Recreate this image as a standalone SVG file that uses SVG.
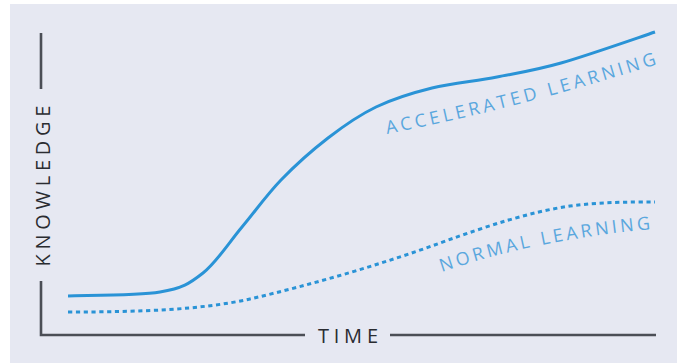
<svg xmlns="http://www.w3.org/2000/svg" width="677" height="363" viewBox="0 0 677 363">
<style>
.axis{fill:none;stroke:#4b4e56;stroke-width:2.6;stroke-linecap:butt}
.axislbl{font-family:"Open Sans","Liberation Sans",sans-serif;font-size:20px;fill:#2a2c31}
.curve{fill:none;stroke:#2a93d6;stroke-width:3}
.dotted{stroke-dasharray:4.2 3.6}
.lbl{font-family:"Open Sans","Liberation Sans",sans-serif;font-size:18px;fill:#5aa7de}
</style>
<defs>
<path id="accPath" d="M387,134 Q520,108 664,62"/>
<path id="normPath" d="M442,272 Q540,238 664,228"/>
</defs>
<rect x="10" y="4" width="667" height="359" fill="#e6e8f2"/>
<g id="axes">
<path class="axis" d="M41,33 V89 M41,281 V335 H305 M390,335 H656"/>
<text class="axislbl" transform="translate(50,186) rotate(-90)" text-anchor="middle" textLength="161" lengthAdjust="spacing">KNOWLEDGE</text>
<text class="axislbl" x="318" y="343" textLength="60" lengthAdjust="spacing">TIME</text>
</g>
<g id="connectors">
<path id="accelerated" class="curve" d="M68,296 C83.3,295.3 137.5,295.8 160,292 C182.5,288.2 189.3,283.8 203,273 C216.7,262.2 229,242.5 242,227 C255,211.5 266.7,194.8 281,180 C295.3,165.2 312.2,150.2 328,138 C343.8,125.8 358.7,115.3 376,107 C393.3,98.7 411.8,93 432,88 C452.2,83 475.5,81.2 497,77 C518.5,72.8 534.7,70.5 561,63 C587.3,55.5 639.3,37.2 655,32"/>
<path id="normal" class="curve dotted" d="M68,312 C140,312 200,310 250,299 C310,285 380,265 440,243 C490,225 530,212 570,206 C600,202 630,202 655,202"/>
</g>
<g id="labels">
<text class="lbl" letter-spacing="3.6"><textPath href="#accPath">ACCELERATED LEARNING</textPath></text>
<text class="lbl" letter-spacing="3.3"><textPath href="#normPath">NORMAL LEARNING</textPath></text>
</g>
</svg>
